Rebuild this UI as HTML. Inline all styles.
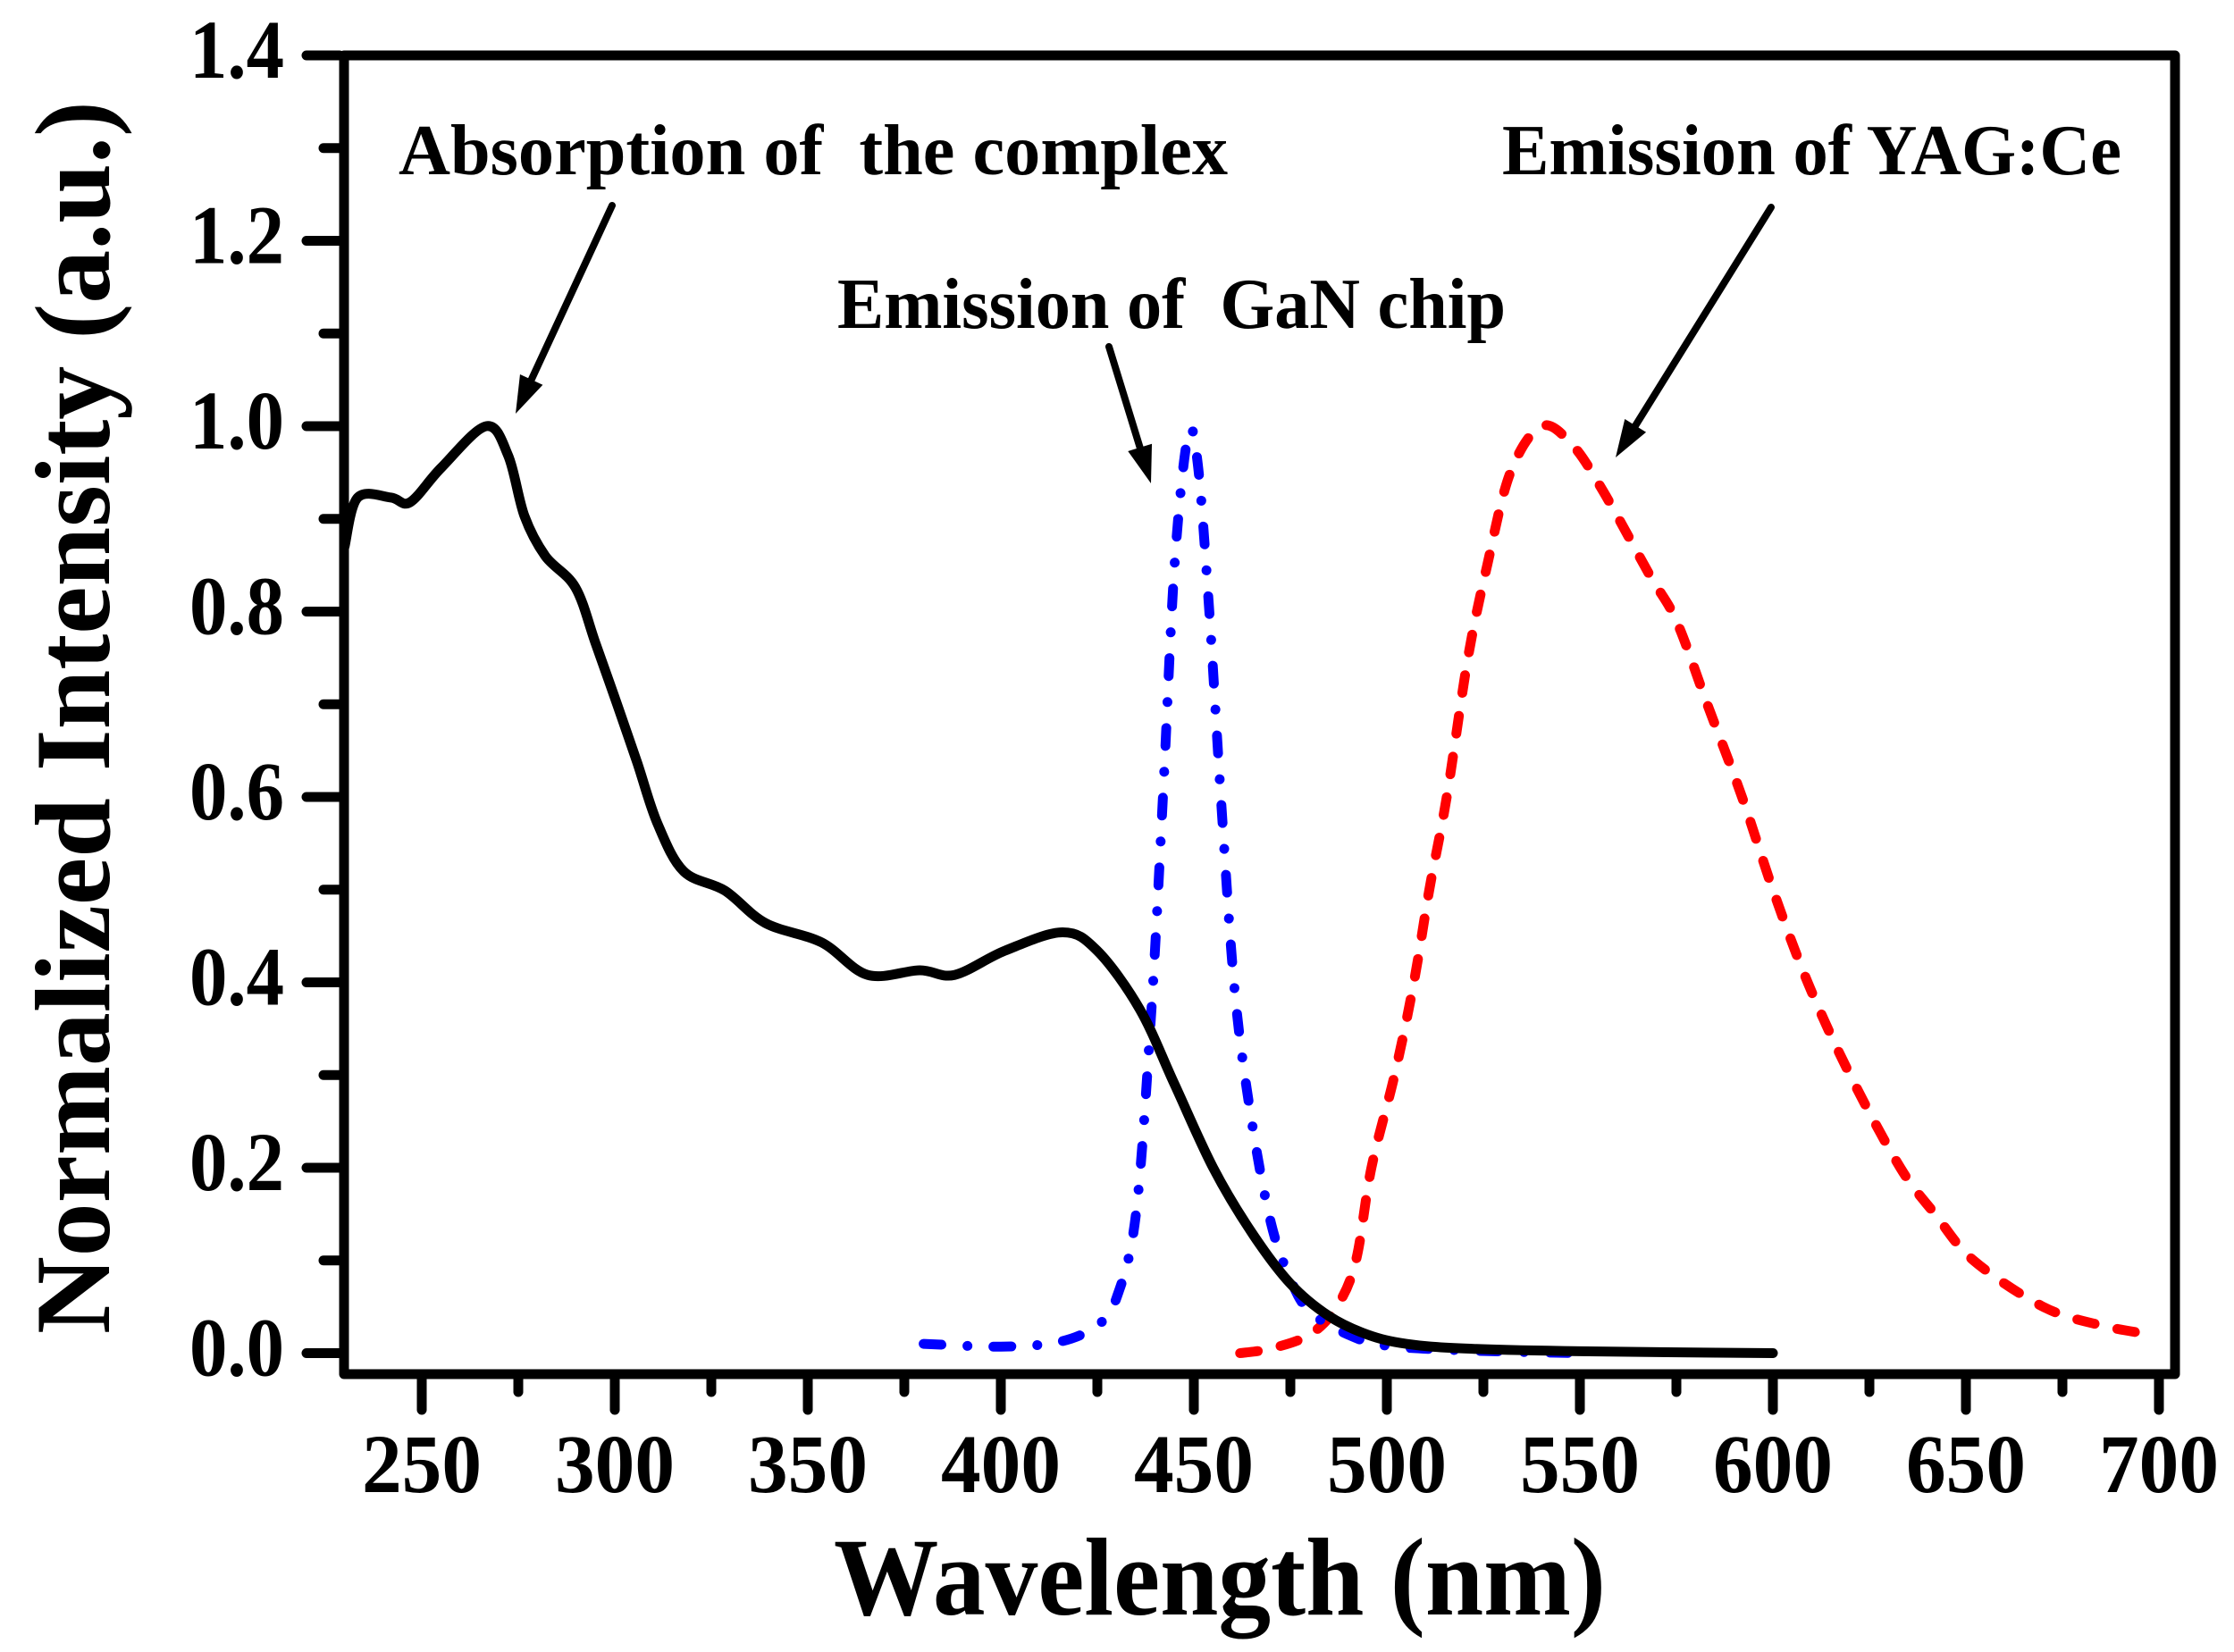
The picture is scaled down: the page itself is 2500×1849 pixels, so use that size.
<!DOCTYPE html>
<html><head><meta charset="utf-8"><style>
html,body{margin:0;padding:0;background:#fff;}
svg{display:block;}
text{font-family:"Liberation Serif",serif;font-weight:bold;fill:#000;}
</style></head><body>
<svg id="s" width="2500" height="1849" viewBox="0 0 2500 1849" xmlns="http://www.w3.org/2000/svg">
<rect width="2500" height="1849" fill="#fff"/>
<g id="curves"></g>
<g id="ticks" stroke="#000" stroke-width="11" stroke-linecap="round"></g>
<rect x="385" y="62" width="2049" height="1476" fill="none" stroke="#000" stroke-width="11" stroke-linejoin="round"/>
<g id="labels" font-size="93"></g>
<text x="933" y="1807" font-size="124" textLength="864" lengthAdjust="spacingAndGlyphs">Wavelength (nm)</text>
<text transform="translate(122,1493) rotate(-90)" x="0" y="0" font-size="120" textLength="1380" lengthAdjust="spacingAndGlyphs">Normalized Intensity (a.u.)</text>
<text x="446" y="195" font-size="80" textLength="928" lengthAdjust="spacingAndGlyphs" xml:space="preserve">Absorption of  the complex</text>
<text x="937" y="367" font-size="80" textLength="748" lengthAdjust="spacingAndGlyphs" xml:space="preserve">Emission of  GaN chip</text>
<text x="1681" y="195" font-size="80" textLength="693" lengthAdjust="spacingAndGlyphs">Emission of YAG:Ce</text>
<g id="arrows" stroke="#000" stroke-width="8" fill="#000"></g>
</svg>
<script>
var NS="http://www.w3.org/2000/svg";
function X(nm){return 472+(nm-250)*4.32;}
function Y(v){return 1514.5-1037.5*v;}
function el(p,tag,a){var e=document.createElementNS(NS,tag);for(var k in a)e.setAttribute(k,a[k]);p.appendChild(e);return e;}
function path(pts){
 var P=pts.map(function(p){return [X(p[0]),Y(p[1])];});
 var d="M"+P[0][0].toFixed(1)+","+P[0][1].toFixed(1);
 for(var i=0;i<P.length-1;i++){
  var p0=P[i-1]||P[i],p1=P[i],p2=P[i+1],p3=P[i+2]||P[i+1];
  var c1=[p1[0]+(p2[0]-p0[0])/6,p1[1]+(p2[1]-p0[1])/6];
  var c2=[p2[0]-(p3[0]-p1[0])/6,p2[1]-(p3[1]-p1[1])/6];
  d+=" C"+c1[0].toFixed(1)+","+c1[1].toFixed(1)+" "+c2[0].toFixed(1)+","+c2[1].toFixed(1)+" "+p2[0].toFixed(1)+","+p2[1].toFixed(1);
 }
 return d;
}
var black=[[230,0.87],[233.4,0.923],[242,0.923],[247,0.918],[255,0.955],[266.7,1.0],[272.4,0.968],[276.6,0.903],[282,0.86],[289.8,0.826],[295,0.766],[300.5,0.701],[305.8,0.637],[311,0.572],[317.8,0.52],[328.5,0.499],[339,0.464],[353.6,0.443],[365.5,0.408],[379,0.413],[388,0.408],[401,0.434],[416,0.454],[425,0.434],[436,0.371],[445,0.29],[455,0.2],[465,0.13],[475,0.075],[485,0.04],[495,0.02],[505,0.01],[520,0.005],[550,0.002],[600,0.0]];
var blue=[[380,0.01],[400,0.007],[415,0.012],[425,0.03],[430,0.06],[435,0.15],[439,0.37],[442,0.6],[445,0.85],[448.5,0.99],[451,0.96],[454,0.8],[457,0.6],[460.6,0.39],[465,0.25],[470,0.14],[475,0.08],[480,0.045],[490,0.02],[500,0.008],[520,0.003],[550,0.0]];
var red=[[462,0],[470,0.005],[480,0.02],[487,0.05],[492,0.1],[496,0.2],[502,0.3],[507,0.4],[511,0.5],[515.5,0.6],[521,0.75],[526,0.85],[532,0.95],[540,1.0],[548,0.98],[556,0.93],[568,0.84],[575,0.79],[583,0.7],[592,0.6],[600,0.5],[609,0.4],[620,0.3],[633,0.2],[642,0.15],[652,0.1],[670,0.05],[685,0.03],[698,0.02]];
var c=document.getElementById("curves");
el(c,"path",{d:path(red),fill:"none",stroke:"#ff0000","stroke-width":11,"stroke-linecap":"round","stroke-dasharray":"20 26"});
el(c,"path",{d:path(blue),fill:"none",stroke:"#0000ff","stroke-width":11,"stroke-linecap":"round","stroke-dasharray":"20 29 0.1 29"});
el(c,"path",{d:path(black),fill:"none",stroke:"#000","stroke-width":11,"stroke-linecap":"round","stroke-linejoin":"round"});
var t=document.getElementById("ticks"),L=document.getElementById("labels");
for(var i=0;i<=14;i++){var v=i/10,y=Y(v),maj=(i%2==0);
 el(t,"line",{x1:380,y1:y,x2:maj?343:362,y2:y});
 if(maj){var tx=el(L,"text",{x:318,y:y+25,"text-anchor":"end",textLength:106,lengthAdjust:"spacingAndGlyphs"});tx.textContent=v.toFixed(1);}
}
for(var nm=250;nm<=700;nm+=25){var x=X(nm),maj=(nm%50==0);
 el(t,"line",{x1:x,y1:1543,x2:x,y2:maj?1578:1558});
 if(maj){var tx=el(L,"text",{x:x,y:1670,"text-anchor":"middle",textLength:134,lengthAdjust:"spacingAndGlyphs"});tx.textContent=nm;}
}
var A=document.getElementById("arrows");
function arrow(x1,y1,x2,y2){
 var dx=x2-x1,dy=y2-y1,l=Math.sqrt(dx*dx+dy*dy),ux=dx/l,uy=dy/l,hl=42,hw=14;
 var bx=x2-ux*hl,by=y2-uy*hl;
 el(A,"line",{x1:x1,y1:y1,x2:bx,y2:by,"stroke-linecap":"round"});
 el(A,"polygon",{points:x2+","+y2+" "+(bx-uy*hw)+","+(by+ux*hw)+" "+(bx+uy*hw)+","+(by-ux*hw),stroke:"none"});
}
arrow(685,230,577,463);
arrow(1241,388,1288,541);
arrow(1982,232,1808,512);
</script>
</body></html>
